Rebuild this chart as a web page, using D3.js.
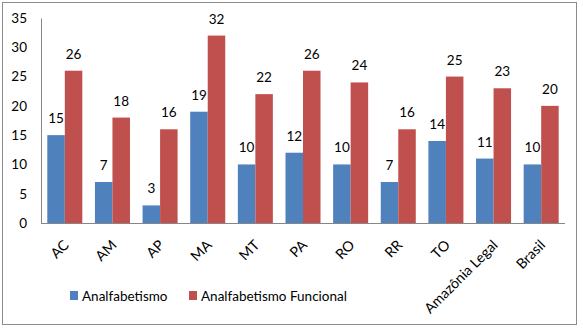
<!DOCTYPE html>
<html><head><meta charset="utf-8">
<script src="https://cdn.jsdelivr.net/npm/d3@7"></script>
<style>body{margin:0;background:#fff}svg{display:block}text{font-family:Lato,"Open Sans",sans-serif}</style>
</head><body><svg id="c" width="583" height="329"></svg>
<script>
const categories = ["AC","AM","AP","MA","MT","PA","RO","RR","TO","Amazônia Legal","Brasil"];
const analfabetismo = [15,7,3,19,10,12,10,7,14,11,10];
const funcional = [26,18,16,32,22,26,24,16,25,23,20];
const seriesNames = ["Analfabetismo","Analfabetismo Funcional"];
const yTicks = [0,5,10,15,20,25,30,35];
const colors = ["#4F81BD","#C0504D"];

const svg = d3.select("#c");
svg.append("rect").attr("x",2.5).attr("y",2.5).attr("width",574).attr("height",322)
  .attr("fill","#fff").attr("stroke","#8c8c8c").attr("stroke-width",1);

const L=41, R=565, T=18, B=223;
const x = d3.scaleBand().domain(categories).range([L,R]).paddingInner(0.265).paddingOuter(0.1325);
const xs = d3.scaleBand().domain([0,1]).range([0,x.bandwidth()]);
const y = d3.scaleLinear().domain([0,35]).range([B,T]);

const data = categories.map((c,i)=>({c, v:[analfabetismo[i],funcional[i]]}));
const g = svg.append("g");
data.forEach(d=>{
  d.v.forEach((v,k)=>{
    g.append("rect").attr("x",x(d.c)+xs(k)).attr("y",y(v)).attr("width",xs.bandwidth())
      .attr("height",B-y(v)).attr("fill",colors[k]);
    g.append("text").attr("x",x(d.c)+xs(k)+xs.bandwidth()/2).attr("y",y(v)-12)
      .attr("text-anchor","middle").attr("font-size",13.5).attr("fill","#000").text(v);
  });
});

// y axis
const ya = svg.append("g").attr("transform",`translate(${L},0)`)
  .call(d3.axisLeft(y).tickValues(yTicks).tickSize(0).tickPadding(14));
ya.select(".domain").attr("stroke","#868686");
ya.selectAll("text").attr("font-size",13.5).attr("fill","#000").attr("font-family","Lato");

// x axis
const xa = svg.append("g").attr("transform",`translate(0,${B})`)
  .call(d3.axisBottom(x).tickSize(0).tickPadding(0));
xa.select(".domain").attr("stroke","#868686").attr("d",`M${L},0.5H${R}`);
xa.selectAll("text").attr("font-size",14.2).attr("fill","#000").attr("font-family","Lato")
  .attr("text-anchor","end").attr("dy",0)
  .attr("transform","translate(5,23) rotate(-45)");

// legend
const leg = svg.append("g");
const lx = [70,189];
seriesNames.forEach((n,k)=>{
  leg.append("rect").attr("x",lx[k]).attr("y",291).attr("width",8).attr("height",9).attr("fill",colors[k]);
  leg.append("text").attr("x",lx[k]+12).attr("y",300.5).attr("font-size",13.5).attr("fill","#000").text(n);
});
</script></body></html>
